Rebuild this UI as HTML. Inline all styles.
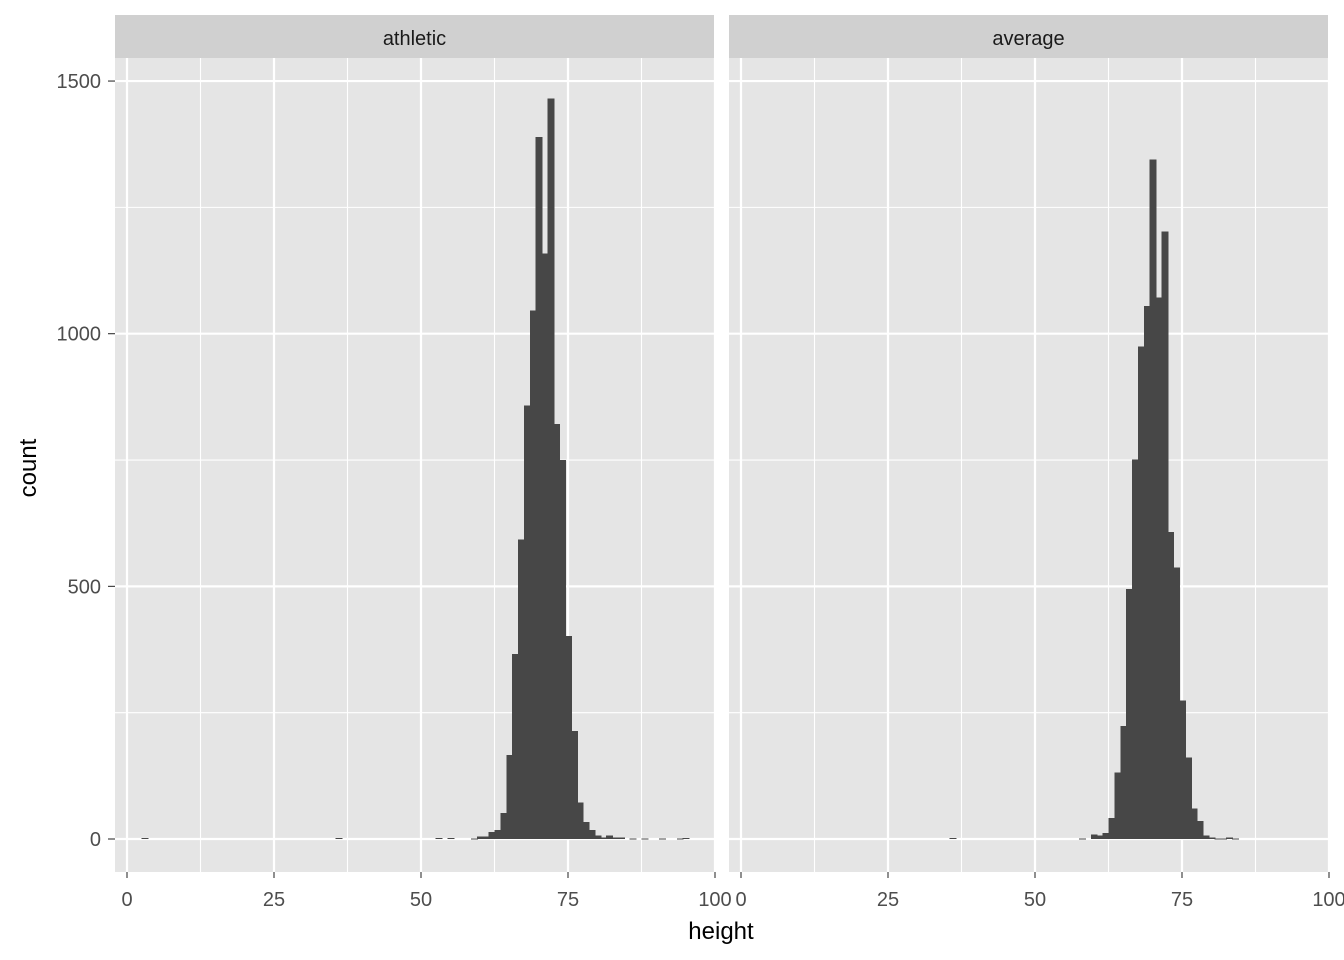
<!DOCTYPE html>
<html><head><meta charset="utf-8"><style>
html,body{margin:0;padding:0;background:#fff;}
svg{display:block;font-family:"Liberation Sans",Arial,sans-serif;}
</style></head><body>
<svg id="chart" width="1344" height="960" viewBox="0 0 1344 960" xmlns="http://www.w3.org/2000/svg"></svg>
<script>
const panelNames = ["athletic", "average"];
const athleticCenters = [3, 36, 53, 55, 59, 60, 61, 62, 63, 64, 65, 66, 67, 68, 69, 70, 71, 72, 73, 74, 75, 76, 77, 78, 79, 80, 81, 82, 83, 84, 86, 88, 91, 94, 95];
const athleticCounts  = [2, 2, 2, 2, 1, 5, 5, 14, 18, 51, 166, 366, 593, 858, 1046, 1389, 1159, 1465, 821, 750, 402, 214, 72, 34, 18, 7, 3, 7, 3, 3, 1, 1, 1, 1, 2];
const averageCenters = [36, 58, 60, 61, 62, 63, 64, 65, 66, 67, 68, 69, 70, 71, 72, 73, 74, 75, 76, 77, 78, 79, 80, 81, 82, 83, 84];
const averageCounts  = [2, 1, 9, 7, 12, 42, 132, 224, 495, 751, 975, 1055, 1345, 1072, 1202, 608, 537, 274, 161, 60, 36, 7, 3, 1, 1, 3, 1];
const xTicks = [0, 25, 50, 75, 100];
const xMinor = [12.5, 37.5, 62.5, 87.5];
const yTicks = [0, 500, 1000, 1500];
const yMinor = [250, 750, 1250];

const NS = "http://www.w3.org/2000/svg";
const svg = document.getElementById("chart");
function mk(tag, attrs, parent){const e=document.createElementNS(NS,tag);for(const k in attrs)e.setAttribute(k,attrs[k]);(parent||svg).appendChild(e);return e;}

const panels = [{x0:115,x1:714,zero:127},{x0:729,x1:1328,zero:741}];
const pTop = 58, pBot = 872;
const unit = 5.88;
function yScale(v){return 839 - v*0.5053;}
const data = [[athleticCenters, athleticCounts],[averageCenters, averageCounts]];

panels.forEach((p, i) => {
  const xs = v => p.zero + v*unit;
  const g = mk("g", {});
  
  
  const bg = mk("rect", {x:p.x0, y:pTop, width:p.x1-p.x0, height:pBot-pTop, fill:"#e5e5e5"}, g);
  
  
  yMinor.forEach(v => { mk("line",{x1:p.x0,x2:p.x1,y1:yScale(v),y2:yScale(v),stroke:"#fff","stroke-width":1.1},g); });
  xMinor.forEach(v => { mk("line",{x1:xs(v),x2:xs(v),y1:pTop,y2:pBot,stroke:"#fff","stroke-width":1.1},g); });
  yTicks.forEach(v => { mk("line",{x1:p.x0,x2:p.x1,y1:yScale(v),y2:yScale(v),stroke:"#fff","stroke-width":2.2},g); });
  xTicks.forEach(v => { mk("line",{x1:xs(v),x2:xs(v),y1:pTop,y2:pBot,stroke:"#fff","stroke-width":2.2},g); });
  const [cs, ns] = data[i];
  cs.forEach((c, j) => {
    const r = mk("rect",{x:xs(c-0.5), y:yScale(ns[j]), width:unit+1, height:Math.max(yScale(0)-yScale(ns[j]),0.8), fill:"#474747","shape-rendering":"crispEdges"}, g);
    
    
  });
  const strip = mk("rect",{x:p.x0,y:15,width:p.x1-p.x0,height:43,fill:"#d0d0d0"},g);
  
  
  const st = mk("text",{x:(p.x0+p.x1)/2,y:45,"text-anchor":"middle","font-size":20,fill:"#1a1a1a"},g);
  st.textContent = panelNames[i];
  
  
  xTicks.forEach(v => {
    mk("line",{x1:xs(v),x2:xs(v),y1:pBot,y2:pBot+6,stroke:"#333","stroke-width":1.1},g);
    const t = mk("text",{x:xs(v),y:906,"text-anchor":"middle","font-size":20,fill:"#4d4d4d"},g);
    t.textContent = v;
    
    
  });
});
yTicks.forEach(v => {
  mk("line",{x1:108,x2:115,y1:yScale(v),y2:yScale(v),stroke:"#333","stroke-width":1.1});
  const t = mk("text",{x:101,y:yScale(v)+7,"text-anchor":"end","font-size":20,fill:"#4d4d4d"});
  t.textContent = v;
  
  
});
const xt = mk("text",{x:721,y:939,"text-anchor":"middle","font-size":24,fill:"#000"});
xt.textContent = "height";


const yt = mk("text",{x:0,y:0,"text-anchor":"middle","font-size":24,fill:"#000",transform:"translate(36,468) rotate(-90)"});
yt.textContent = "count";


</script>
</body></html>
